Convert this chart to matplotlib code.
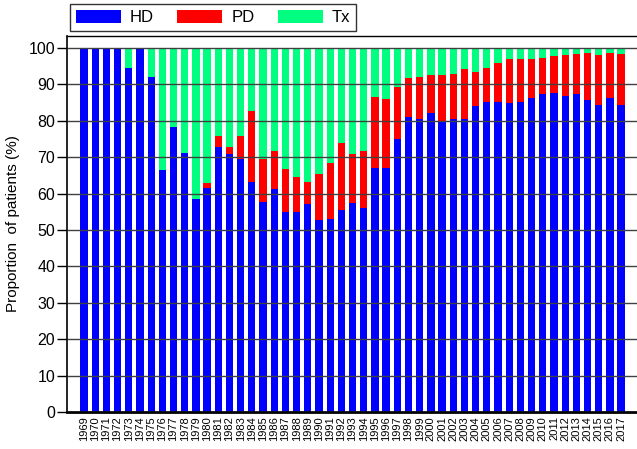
import matplotlib
matplotlib.use("Agg")
import matplotlib.pyplot as plt
import numpy as np

plt.rcParams["font.family"] = ["Liberation Sans", "DejaVu Sans"]

years = [str(y) for y in range(1969, 2018)]

hd = [100, 100, 100, 100, 94.4, 100, 92.0, 66.4, 78.2, 71.2,
      58.6, 61.6, 72.8, 70.9, 69.4, 63.2, 57.6, 61.4, 54.9, 54.9,
      57.2, 52.8, 52.9, 55.5, 57.5, 56.1, 67.1, 66.9, 75.0, 81.0,
      80.5, 82.1, 79.8, 80.4, 80.5, 84.1, 85.1, 85.3, 84.8, 85.1,
      86.2, 87.4, 87.6, 86.9, 87.3, 85.7, 84.3, 86.4, 84.3]
pd_ = [0, 0, 0, 0, 0, 0, 0, 0, 0, 0,
       0, 1.2, 3.0, 1.8, 6.4, 19.5, 11.9, 10.4, 11.8, 9.6,
       6.0, 12.6, 15.4, 18.4, 13.3, 15.6, 19.4, 19.2, 14.4, 10.8,
       11.5, 10.6, 12.7, 12.4, 13.6, 9.3, 9.4, 10.5, 12.1, 11.8,
       10.7, 9.8, 10.1, 11.2, 11.0, 12.8, 13.9, 12.2, 14.0]
tx = [0, 0, 0, 0, 5.6, 0, 8.0, 33.6, 21.8, 28.8,
      41.4, 37.2, 24.2, 27.3, 24.2, 17.3, 30.5, 28.2, 33.3, 35.5,
      36.8, 34.6, 31.7, 26.1, 29.2, 28.3, 13.5, 13.9, 10.6, 8.2,
      8.0, 7.3, 7.5, 7.2, 5.9, 6.6, 5.5, 4.2, 3.1, 3.1,
      3.1, 2.8, 2.3, 1.9, 1.7, 1.5, 1.8, 1.4, 1.7]

W, H = 637, 449
fig = plt.figure(figsize=(W / 100, H / 100), dpi=100)
ax = fig.add_axes([67 / W, 37 / H, (W - 67) / W, (412 - 36) / H])

x = np.arange(len(years))
hd_a, pd_a, tx_a = np.array(hd), np.array(pd_), np.array(tx)
w = 0.65
ax.bar(x, hd_a, w, color="#0000ff", label="HD", zorder=1)
ax.bar(x, pd_a, w, bottom=hd_a, color="#ff0000", label="PD", zorder=1)
ax.bar(x, tx_a, w, bottom=hd_a + pd_a, color="#00ff80", label="Tx", zorder=1)

ax.set_xlim(-1.52, 49.42)
ax.set_ylim(0, 103.3)
ax.set_yticks(range(0, 101, 10))
ax.yaxis.grid(True, color="#404040", lw=1.0, zorder=3)
ax.set_axisbelow(False)
ax.set_xticks(x)
ax.set_xticklabels(years, rotation=90, fontsize=8)
ax.tick_params(axis="x", length=0, pad=3)
ax.tick_params(axis="y", labelsize=11.5, length=7, width=1, direction="out", pad=1.5)
ax.set_ylabel("Proportion  of patients (%)", fontsize=11, labelpad=6)

ax.spines["right"].set_visible(False)
ax.spines["left"].set_linewidth(1.2)
ax.spines["bottom"].set_linewidth(2)
ax.spines["top"].set_linewidth(1)

fig.legend(loc="upper left", bbox_to_anchor=(70 / W, 1 - 4 / H), ncol=3,
           fontsize=12, frameon=True, fancybox=False, edgecolor="black",
           handlelength=2.7, handleheight=0.8, handletextpad=0.55,
           columnspacing=1.4, borderpad=0.35, borderaxespad=0)

fig.savefig("out.png", dpi=100)
